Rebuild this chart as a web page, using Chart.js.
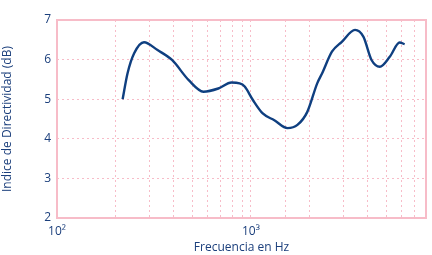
<!DOCTYPE html>
<html>
<head>
<meta charset="utf-8">
<script src="https://cdn.jsdelivr.net/npm/chart.js@4"></script>
<style>
  html, body { margin: 0; padding: 0; background: #fff; }
  #wrap { width: 432px; height: 255px; }
</style>
</head>
<body>
<div id="wrap"><canvas id="chart" width="432" height="255"></canvas></div>
<script>
// frequency in Hz and directivity index in dB
const freqs = [218, 231, 250, 281, 330, 392, 478, 569, 679, 794, 875, 929, 1024, 1151, 1321, 1545, 1738, 1954, 2198, 2328, 2618, 2944, 3443, 3802, 4190, 4624, 5200, 5850, 6210];
const di = [5.0, 5.65, 6.16, 6.44, 6.24, 5.99, 5.48, 5.19, 5.27, 5.42, 5.40, 5.32, 4.98, 4.64, 4.47, 4.27, 4.35, 4.68, 5.40, 5.65, 6.20, 6.45, 6.75, 6.58, 5.99, 5.82, 6.07, 6.43, 6.39];
const xTickLabels = { 100: '10²', 1000: '10³' };
const yTicks = [2, 3, 4, 5, 6, 7];

const navy = '#1b3f7c';
const pink = '#f7bcc8';

const points = freqs.map((f, i) => ({ x: f, y: di[i] }));

// solid frame round the plot area
const frame = {
  id: 'frame',
  beforeDatasetsDraw(chart) {
    const a = chart.chartArea;
    const ctx = chart.ctx;
    ctx.save();
    ctx.strokeStyle = pink;
    ctx.lineWidth = 2;
    ctx.strokeRect(a.left, a.top, a.right - a.left, a.bottom - a.top);
    ctx.restore();
  }
};

new Chart(document.getElementById('chart'), {
  type: 'line',
  data: {
    datasets: [{
      data: points,
      borderColor: '#0f3f80',
      borderWidth: 2.4,
      pointRadius: 0,
      tension: 0.4,
      cubicInterpolationMode: 'monotone',
      fill: false
    }]
  },
  options: {
    responsive: false,
    animation: false,
    layout: { padding: { top: 20, right: 4, left: 0, bottom: 0 } },
    plugins: { legend: { display: false }, tooltip: { enabled: false } },
    scales: {
      x: {
        type: 'logarithmic',
        min: 100,
        max: 8000,
        border: { display: false, dash: [2, 3] },
        grid: { color: pink, lineWidth: 1, drawTicks: false },
        ticks: {
          autoSkip: false,
          maxRotation: 0,
          color: navy,
          padding: 6,
          font: { family: 'Open Sans', size: 12 },
          callback: (v) => xTickLabels[v] || ''
        },
        title: {
          display: true,
          text: 'Frecuencia en Hz',
          color: navy,
          padding: { top: 0, bottom: 0 },
          font: { family: 'Open Sans', size: 12 }
        },
        afterFit: (s) => { s.height = 37; }
      },
      y: {
        min: 2,
        max: 7,
        border: { display: false, dash: [2, 3] },
        grid: { color: pink, lineWidth: 1, drawTicks: false },
        afterBuildTicks: (s) => { s.ticks = yTicks.map(v => ({ value: v })); },
        ticks: {
          color: navy,
          padding: 6,
          font: { family: 'Open Sans', size: 12 }
        },
        title: {
          display: true,
          text: 'Indice de Directividad (dB)',
          color: navy,
          padding: { top: 0, bottom: 8 },
          font: { family: 'Open Sans', size: 12 }
        },
        afterFit: (s) => { s.width = 57; }
      }
    }
  },
  plugins: [frame]
});
</script>
</body>
</html>
